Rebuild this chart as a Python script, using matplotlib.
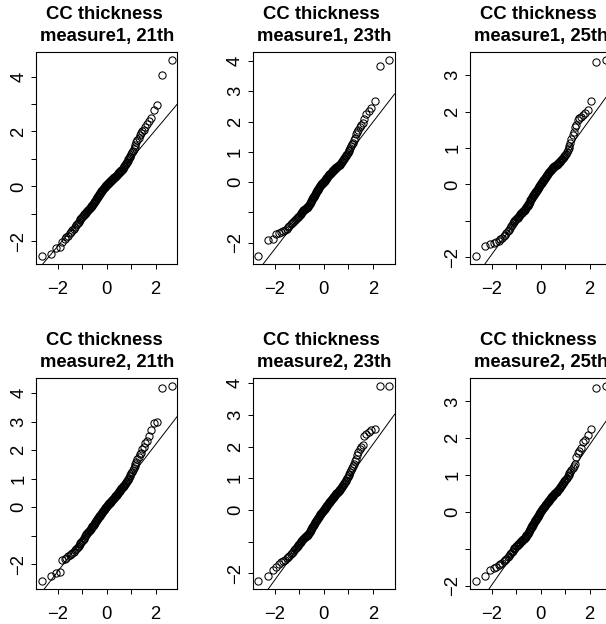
import numpy as np
import matplotlib
matplotlib.use("Agg")
import matplotlib.pyplot as plt
from statistics import NormalDist

plt.rcParams['font.family'] = ['Liberation Sans', 'DejaVu Sans']

# ---------------- data (sorted sample values per panel) ----------------
m1_21 = [-2.53, -2.45, -2.26, -2.22, -2.02, -1.93, -1.86, -1.79, -1.71, -1.66,
         -1.60, -1.54, -1.48, -1.42, -1.37, -1.33, -1.28, -1.24, -1.20, -1.15,
         -1.12, -1.09, -1.06, -1.02, -0.99, -0.96, -0.93, -0.90, -0.87, -0.85,
         -0.82, -0.80, -0.78, -0.76, -0.73, -0.70, -0.67, -0.64, -0.61, -0.58,
         -0.55, -0.52, -0.49, -0.46, -0.43, -0.40, -0.37, -0.34, -0.31, -0.28,
         -0.26, -0.23, -0.21, -0.18, -0.16, -0.13, -0.11, -0.09, -0.07, -0.05,
         -0.03, -0.01, 0.01, 0.02, 0.04, 0.06, 0.08, 0.09, 0.11, 0.13,
         0.15, 0.17, 0.19, 0.21, 0.23, 0.25, 0.27, 0.28, 0.30, 0.31,
         0.33, 0.34, 0.36, 0.38, 0.39, 0.41, 0.43, 0.45, 0.47, 0.49,
         0.51, 0.53, 0.55, 0.57, 0.59, 0.61, 0.63, 0.66, 0.70, 0.74,
         0.78, 0.82, 0.86, 0.90, 0.94, 0.98, 1.02, 1.07, 1.12, 1.18,
         1.24, 1.30, 1.37, 1.44, 1.52, 1.60, 1.68, 1.76, 1.86, 1.95,
         2.01, 2.07, 2.17, 2.28, 2.38, 2.50, 2.78, 2.98, 4.05, 4.62]

m1_23 = [-2.44, -1.93, -1.89, -1.72, -1.67, -1.64, -1.61, -1.58, -1.55, -1.50,
         -1.45, -1.40, -1.35, -1.31, -1.28, -1.25, -1.22, -1.19, -1.16, -1.14,
         -1.11, -1.08, -1.05, -1.02, -0.99, -0.97, -0.94, -0.92, -0.90, -0.88,
         -0.86, -0.85, -0.83, -0.81, -0.78, -0.75, -0.72, -0.69, -0.66, -0.63,
         -0.60, -0.57, -0.54, -0.51, -0.48, -0.45, -0.42, -0.39, -0.36, -0.33,
         -0.30, -0.27, -0.25, -0.22, -0.19, -0.17, -0.14, -0.12, -0.10, -0.08,
         -0.06, -0.04, -0.02, -0.01, 0.01, 0.03, 0.05, 0.07, 0.09, 0.11,
         0.13, 0.15, 0.17, 0.19, 0.21, 0.23, 0.25, 0.26, 0.28, 0.30,
         0.31, 0.33, 0.35, 0.37, 0.39, 0.41, 0.42, 0.44, 0.46, 0.48,
         0.49, 0.51, 0.53, 0.54, 0.56, 0.57, 0.58, 0.60, 0.63, 0.66,
         0.69, 0.72, 0.76, 0.80, 0.83, 0.87, 0.90, 0.93, 0.97, 1.02,
         1.07, 1.12, 1.18, 1.25, 1.30, 1.38, 1.46, 1.58, 1.65, 1.72,
         1.82, 1.88, 1.96, 2.10, 2.26, 2.36, 2.46, 2.67, 3.84, 4.05]

m1_25 = [-1.96, -1.70, -1.64, -1.60, -1.57, -1.54, -1.50, -1.46, -1.42, -1.38,
         -1.34, -1.29, -1.24, -1.19, -1.14, -1.10, -1.06, -1.03, -1.00, -0.97,
         -0.95, -0.93, -0.91, -0.88, -0.86, -0.84, -0.81, -0.79, -0.77, -0.75,
         -0.73, -0.72, -0.70, -0.69, -0.67, -0.65, -0.62, -0.60, -0.58, -0.55,
         -0.53, -0.50, -0.47, -0.44, -0.41, -0.39, -0.37, -0.34, -0.32, -0.30,
         -0.28, -0.26, -0.24, -0.22, -0.20, -0.18, -0.16, -0.14, -0.12, -0.10,
         -0.08, -0.06, -0.04, -0.02, -0.01, 0.01, 0.03, 0.05, 0.07, 0.09,
         0.11, 0.13, 0.15, 0.17, 0.19, 0.21, 0.23, 0.25, 0.27, 0.29,
         0.31, 0.33, 0.35, 0.37, 0.38, 0.40, 0.41, 0.43, 0.44, 0.46,
         0.47, 0.48, 0.50, 0.51, 0.52, 0.53, 0.54, 0.55, 0.57, 0.59,
         0.61, 0.63, 0.65, 0.67, 0.69, 0.71, 0.73, 0.75, 0.77, 0.80,
         0.84, 0.88, 0.94, 1.00, 1.06, 1.14, 1.26, 1.35, 1.45, 1.58,
         1.64, 1.76, 1.82, 1.86, 1.90, 1.96, 2.05, 2.30, 3.35, 3.43]

m2_21 = [-2.59, -2.42, -2.31, -2.28, -1.86, -1.80, -1.76, -1.70, -1.66, -1.62,
         -1.59, -1.55, -1.51, -1.47, -1.42, -1.38, -1.34, -1.30, -1.26, -1.22,
         -1.18, -1.14, -1.10, -1.06, -1.02, -0.98, -0.95, -0.91, -0.88, -0.85,
         -0.82, -0.80, -0.78, -0.76, -0.73, -0.70, -0.67, -0.64, -0.61, -0.58,
         -0.55, -0.52, -0.49, -0.47, -0.44, -0.42, -0.39, -0.37, -0.34, -0.32,
         -0.29, -0.27, -0.24, -0.22, -0.19, -0.17, -0.14, -0.12, -0.10, -0.08,
         -0.06, -0.04, -0.02, 0.00, 0.02, 0.04, 0.06, 0.08, 0.10, 0.12,
         0.14, 0.16, 0.18, 0.20, 0.22, 0.24, 0.26, 0.28, 0.30, 0.32,
         0.34, 0.36, 0.38, 0.40, 0.42, 0.44, 0.47, 0.49, 0.51, 0.53,
         0.56, 0.58, 0.61, 0.63, 0.66, 0.68, 0.71, 0.73, 0.76, 0.79,
         0.82, 0.85, 0.89, 0.92, 0.96, 1.00, 1.04, 1.09, 1.14, 1.19,
         1.25, 1.31, 1.38, 1.45, 1.52, 1.60, 1.68, 1.78, 1.88, 1.92,
         2.05, 2.12, 2.24, 2.33, 2.50, 2.72, 2.95, 2.99, 4.17, 4.27]

m2_23 = [-2.25, -2.10, -1.89, -1.80, -1.72, -1.66, -1.62, -1.58, -1.53, -1.48,
         -1.44, -1.40, -1.36, -1.32, -1.28, -1.24, -1.21, -1.17, -1.14, -1.11,
         -1.08, -1.05, -1.02, -0.99, -0.96, -0.93, -0.91, -0.89, -0.87, -0.85,
         -0.83, -0.82, -0.80, -0.78, -0.76, -0.73, -0.70, -0.67, -0.64, -0.61,
         -0.58, -0.55, -0.52, -0.50, -0.47, -0.44, -0.42, -0.39, -0.36, -0.34,
         -0.31, -0.29, -0.26, -0.24, -0.21, -0.19, -0.17, -0.14, -0.12, -0.10,
         -0.08, -0.06, -0.04, -0.02, 0.00, 0.02, 0.04, 0.06, 0.08, 0.10,
         0.12, 0.14, 0.16, 0.18, 0.20, 0.22, 0.24, 0.26, 0.28, 0.30,
         0.32, 0.34, 0.36, 0.38, 0.40, 0.42, 0.44, 0.46, 0.48, 0.50,
         0.52, 0.54, 0.56, 0.58, 0.60, 0.62, 0.64, 0.66, 0.69, 0.72,
         0.75, 0.78, 0.81, 0.85, 0.88, 0.92, 0.96, 1.00, 1.05, 1.10,
         1.15, 1.21, 1.27, 1.33, 1.39, 1.46, 1.54, 1.62, 1.72, 1.84,
         1.92, 2.00, 2.05, 2.34, 2.40, 2.46, 2.52, 2.57, 3.92, 3.93]

m2_25 = [-1.87, -1.74, -1.58, -1.52, -1.48, -1.44, -1.40, -1.37, -1.33, -1.29,
         -1.26, -1.22, -1.18, -1.14, -1.11, -1.07, -1.04, -1.01, -0.98, -0.96,
         -0.93, -0.91, -0.89, -0.87, -0.85, -0.83, -0.81, -0.79, -0.77, -0.76,
         -0.74, -0.73, -0.72, -0.70, -0.68, -0.66, -0.63, -0.61, -0.59, -0.56,
         -0.54, -0.51, -0.49, -0.46, -0.44, -0.41, -0.39, -0.36, -0.34, -0.31,
         -0.29, -0.27, -0.24, -0.22, -0.20, -0.18, -0.16, -0.14, -0.12, -0.10,
         -0.08, -0.06, -0.04, -0.02, 0.00, 0.02, 0.04, 0.06, 0.08, 0.10,
         0.12, 0.13, 0.15, 0.17, 0.19, 0.21, 0.22, 0.24, 0.26, 0.28,
         0.29, 0.31, 0.33, 0.35, 0.36, 0.38, 0.40, 0.41, 0.43, 0.45,
         0.46, 0.48, 0.50, 0.51, 0.53, 0.54, 0.55, 0.57, 0.59, 0.61,
         0.63, 0.65, 0.68, 0.70, 0.73, 0.76, 0.79, 0.82, 0.85, 0.88,
         0.90, 0.93, 0.97, 1.01, 1.05, 1.10, 1.15, 1.20, 1.25, 1.31,
         1.50, 1.60, 1.65, 1.75, 1.90, 1.96, 2.08, 2.26, 3.37, 3.43]

series = [m1_21, m1_23, m1_25, m2_21, m2_23, m2_25]
title_line1 = ["CC thickness"] * 6
title_line2 = ["measure1, 21th", "measure1, 23th", "measure1, 25th",
               "measure2, 21th", "measure2, 23th", "measure2, 25th"]
x_tick_labels = [-2, 0, 2]
y_tick_labels = [[4, 2, 0, -2],
                 [4, 3, 2, 1, 0, -2],
                 [3, 2, 1, 0, -2],
                 [4, 3, 2, 1, 0, -2],
                 [4, 3, 2, 1, 0, -2],
                 [3, 2, 1, 0, -2]]

# ---------------- layout (pixel boxes: left, right, top, bottom) ----------------
W, H = 606, 624
col_lr = [(36.3, 177.0), (253.0, 394.7), (470.3, 611.0)]
row_tb = [(51.7, 263.7), (377.7, 589.0)]

FS = 13.3


def fmt(v):
    return ("\u2212" + str(abs(v))) if v < 0 else str(v)


fig = plt.figure(figsize=(W / 100, H / 100), dpi=100)
nd = NormalDist()

for k, vals in enumerate(series):
    r, c = divmod(k, 3)
    l, rr = col_lr[c]
    t, b = row_tb[r]
    ax = fig.add_axes([l / W, 1 - b / H, (rr - l) / W, (b - t) / H])

    y = np.sort(np.asarray(vals, dtype=float))
    n = len(y)
    a = 3 / 8 if n <= 10 else 0.5
    p = (np.arange(1, n + 1) - a) / (n + 1 - 2 * a)
    x = np.array([nd.inv_cdf(pi) for pi in p])

    ax.plot(x, y, 'o', mfc='none', mec='black', ms=5.2, mew=0.75, zorder=3)

    q1, q3 = np.percentile(y, [25, 75])
    z1, z3 = nd.inv_cdf(0.25), nd.inv_cdf(0.75)
    slope = (q3 - q1) / (z3 - z1)
    inter = q1 - slope * z1
    ax.axline((0, inter), slope=slope, color='black', lw=0.7, zorder=2)

    xr = x.max() - x.min()
    yr = y.max() - y.min()
    ax.set_xlim(x.min() - 0.04 * xr, x.max() + 0.04 * xr)
    ax.set_ylim(y.min() - 0.04 * yr, y.max() + 0.04 * yr)

    xt = np.arange(-2, 3)
    ax.set_xticks(xt, [fmt(v) if v in x_tick_labels else '' for v in xt])
    lo, hi = ax.get_ylim()
    yt = np.arange(int(np.ceil(lo)), int(np.floor(hi)) + 1)
    ax.set_yticks(yt, [fmt(v) if v in y_tick_labels[k] else '' for v in yt],
                  rotation=90, va='center')

    ax.tick_params(axis='both', direction='out', length=3.6, width=0.7,
                   labelsize=FS, colors='black')
    ax.tick_params(axis='x', pad=8.5)
    ax.tick_params(axis='y', pad=3.0)
    for s in ax.spines.values():
        s.set_linewidth(0.8)

    cx = (l + rr) / 2
    fig.text((cx - 2.6) / W, 1 - (t - 32.4) / H, title_line1[k],
             ha='center', va='baseline', fontsize=FS, fontweight='bold')
    fig.text(cx / W, 1 - (t - 11.2) / H, title_line2[k],
             ha='center', va='baseline', fontsize=FS, fontweight='bold')

fig.savefig("out.png", dpi=100)
